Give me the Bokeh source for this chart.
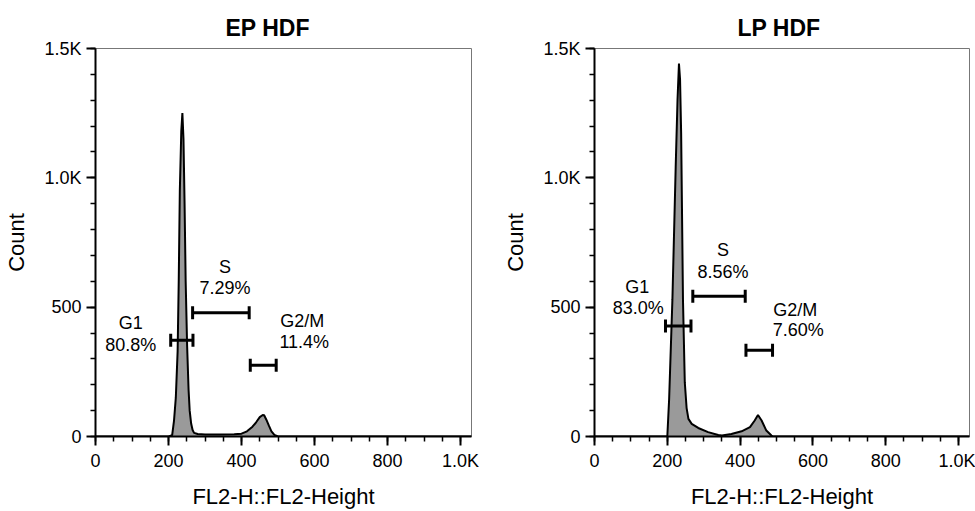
from bokeh.plotting import figure
from bokeh.layouts import row
from bokeh.models import Range1d, FixedTicker, ColumnDataSource
from bokeh.embed import file_html
from bokeh.resources import INLINE

# ---------------- data ----------------
ep_x = [0, 200, 210, 215, 220, 225, 228, 231, 235, 238, 241, 244, 247, 251, 255, 258, 262, 266, 270,
        280, 300, 340, 380, 400, 415, 430, 440, 450, 458, 462, 468, 475, 482, 490, 500, 1030]
ep_count = [0, 0, 5, 60, 150, 330, 600, 950, 1180, 1250, 1150, 900, 600, 350, 180, 100, 50, 25, 14,
            10, 8, 8, 9, 11, 20, 38, 55, 75, 83, 82, 65, 42, 20, 6, 0, 0]

lp_x = [0, 200, 205, 214, 223, 228, 232, 235, 238, 243, 248, 253, 258, 267, 285, 312, 340, 350,
        376, 404, 427, 440, 449, 459, 472, 486, 490, 1030]
lp_count = [0, 0, 145, 530, 1042, 1300, 1442, 1380, 1170, 530, 209, 110, 68, 49, 33, 17, 6, 4,
            10, 20, 36, 62, 83, 62, 23, 4, 0, 0]

gate_names = ["G1", "S", "G2/M"]
ep_pct = ["80.8%", "7.29%", "11.4%"]
ep_gate_start = [206, 266, 424]
ep_gate_end = [267, 421, 495]
ep_gate_y = [372, 478, 275]

lp_pct = ["83.0%", "8.56%", "7.60%"]
lp_gate_start = [195, 270, 416]
lp_gate_end = [265, 414, 489]
lp_gate_y = [427, 542, 333]

x_ticks = [0, 200, 400, 600, 800, 1000]
y_ticks = [0, 500, 1000, 1500]

# ---------------- layout / style ----------------
FONT = "Liberation Sans"
# label offsets in screen px: (name dx, name dy_up, pct dx, pct dy_up)
ep_label_off = [(-51, 17, -51, -5), (4, 46, 4, 25), (39, 44, 41, 23)]
lp_label_off = [(-41, 39, -40, 18), (4, 46, 4, 24), (36, 40, 39, 20)]


def make_panel(title, xs, counts, pct, g0, g1, gy, offs, width, bl, br, title_off):
    p = figure(width=width, height=511, output_backend="svg", toolbar_location=None,
               x_range=Range1d(0, 1030), y_range=Range1d(0, 1500),
               min_border_left=bl, min_border_right=br, min_border_top=48, min_border_bottom=10)
    p.title.text = title
    p.title.align = "left"
    p.title.offset = title_off
    p.title.standoff = 16
    p.title.text_font = FONT
    p.title.text_font_size = "23px"
    p.title.text_font_style = "bold"
    p.title.text_color = "black"
    p.grid.visible = False
    p.outline_line_color = "#777777"
    p.outline_line_width = 1

    p.varea(x=xs, y1=[0] * len(xs), y2=counts, fill_color="#9a9a9a")
    p.line(x=xs, y=counts, line_color="black", line_width=2)

    # gates
    p.segment(x0=g0, y0=gy, x1=g1, y1=gy, line_color="black", line_width=3)
    p.scatter(x=g0 + g1, y=gy + gy, marker="dash", angle=1.5708, size=13,
              line_color="black", line_width=3)

    src = ColumnDataSource(dict(
        x=[(a + b) / 2 for a, b in zip(g0, g1)], y=gy,
        name=gate_names, pct=pct,
        ndx=[o[0] for o in offs], ndy=[-o[1] for o in offs],
        pdx=[o[2] for o in offs], pdy=[-o[3] for o in offs]))
    for col, dx, dy in (("name", "ndx", "ndy"), ("pct", "pdx", "pdy")):
        p.text(x="x", y="y", text=col, x_offset=dx, y_offset=dy, source=src,
               text_align="center", text_baseline="middle", text_font_size="18px",
               text_color="black", text_font={"value": FONT})

    p.xaxis.ticker = FixedTicker(ticks=x_ticks, minor_ticks=list(range(0, 1031, 50)))
    p.yaxis.ticker = FixedTicker(ticks=y_ticks, minor_ticks=list(range(0, 1501, 100)))
    p.xaxis.major_label_overrides = {1000: "1.0K"}
    p.yaxis.major_label_overrides = {1000: "1.0K", 1500: "1.5K"}
    p.xaxis.axis_label = "FL2-H::FL2-Height"
    p.yaxis.axis_label = "Count"
    for ax in (p.xaxis[0], p.yaxis[0]):
        ax.axis_line_width = 2
        ax.axis_line_color = "black"
        ax.major_tick_line_width = 2
        ax.major_tick_line_color = "black"
        ax.minor_tick_line_width = 1.5
        ax.minor_tick_line_color = "black"
        ax.major_tick_out = 9
        ax.major_tick_in = 0
        ax.minor_tick_out = 5
        ax.minor_tick_in = 0
        ax.major_label_text_font = FONT
        ax.major_label_text_font_size = "18px"
        ax.major_label_text_color = "black"
        ax.major_label_standoff = 5
        ax.axis_label_text_font = FONT
        ax.axis_label_text_font_size = "22px"
        ax.axis_label_text_font_style = "normal"
        ax.axis_label_text_color = "black"
    p.yaxis.axis_label_standoff = 12
    p.xaxis.axis_label_standoff = 10
    return p


p1 = make_panel("EP HDF", ep_x, ep_count, ep_pct, ep_gate_start, ep_gate_end, ep_gate_y,
                ep_label_off, 487, 95, 16, 130)
p2 = make_panel("LP HDF", lp_x, lp_count, lp_pct, lp_gate_start, lp_gate_end, lp_gate_y,
                lp_label_off, 488, 107, 6, 143)

layout = row(p1, p2)
open("out.html", "w").write(file_html(layout, INLINE))
